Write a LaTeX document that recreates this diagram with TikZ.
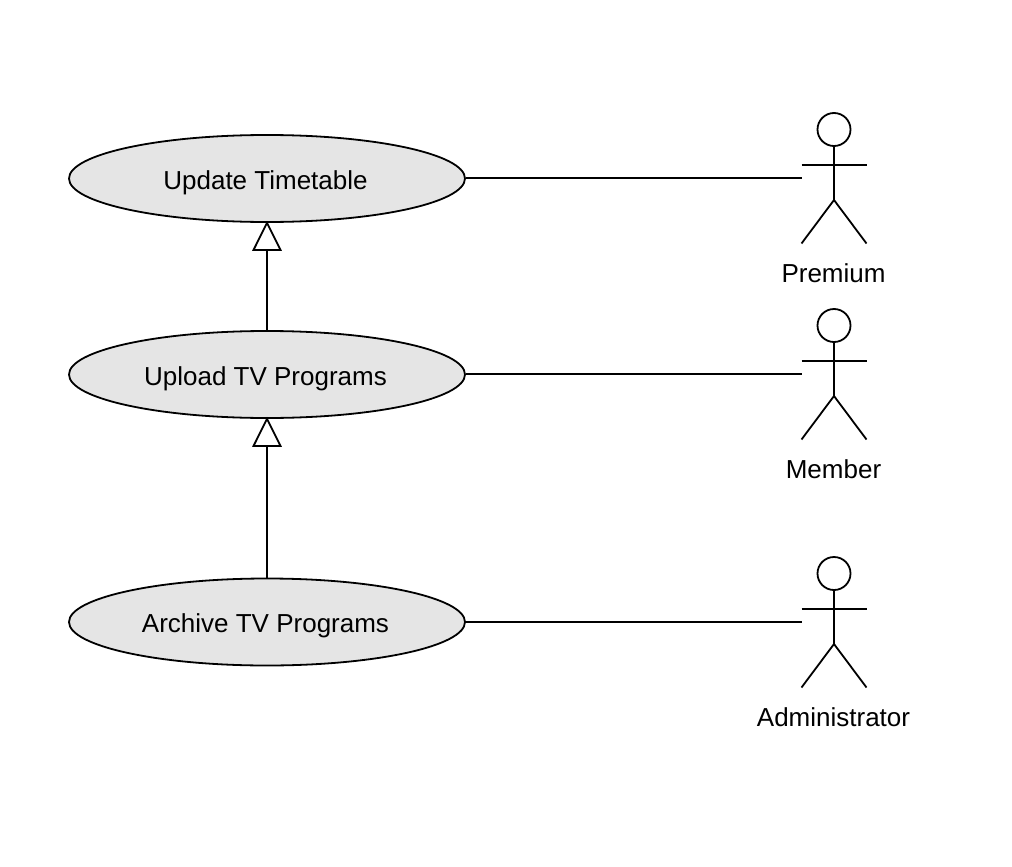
\documentclass[tikz,border=0pt]{standalone}
\usepackage{fontspec}
\usetikzlibrary{shapes.geometric}
\setmainfont{Liberation Sans}
\tikzset{
  x=1pt,y=-1pt,
  usecase/.style={draw=black,fill=black!10,ellipse,minimum width=396pt,minimum height=87pt,inner sep=0pt,line width=1.8pt,font=\fontsize{26}{31}\selectfont},
  link/.style={draw=black,line width=1.8pt},
  actorlabel/.style={inner sep=0pt,font=\fontsize{26}{31}\selectfont},
  tri/.style={draw=black,fill=white,line width=1.8pt,line join=miter},
}
\newcommand{\casetext}[1]{\raisebox{-10.5pt}[10pt][10pt]{#1}\hspace*{3pt}}
\newcommand{\actorfig}[3]{%
  \node[draw=black,fill=white,circle,minimum size=33pt,inner sep=0pt,line width=1.8pt] (#1head) at (#2,#3+16.5) {};
  \coordinate (#1neck) at (#2,#3+33);
  \coordinate (#1hip) at (#2,#3+87);
  \coordinate (#1la) at (#2-32.5,#3+52);
  \coordinate (#1ra) at (#2+32.5,#3+52);
  \coordinate (#1ll) at (#2-32.5,#3+130.5);
  \coordinate (#1rl) at (#2+32.5,#3+130.5);
  \coordinate (#1port) at (#2-32.5,#3+65);
  \draw[link] (#1neck) -- (#1hip);
  \draw[link] (#1la) -- (#1ra);
  \draw[link] (#1ll) -- (#1hip) -- (#1rl);
}
\begin{document}
\begin{tikzpicture}
\useasboundingbox (0,0) rectangle (1012,867);
\node[usecase] (update) at (267,178.5) {\casetext{Update Timetable}};
\node[usecase] (upload) at (267,374.5) {\casetext{Upload TV Programs}};
\node[usecase] (archive) at (267,622) {\casetext{Archive TV Programs}};
\actorfig{p}{834}{113}
\actorfig{m}{834}{309}
\actorfig{a}{834}{557}
\node[actorlabel] (pl) at (833.5,273.5) {Premium};
\node[actorlabel] (ml) at (833.5,469.5) {Member};
\node[actorlabel] (al) at (833.5,717.5) {Administrator};
\draw[link] (update.east |- pport) -- (pport);
\draw[link] (upload.east |- mport) -- (mport);
\draw[link] (archive.east |- aport) -- (aport);
\coordinate (t1) at (267,250);
\coordinate (t2) at (267,446);
\draw[link] (upload.north) -- (t1);
\draw[link] (archive.north) -- (t2);
\draw[tri] (update.south) -- ([xshift=13.5pt]t1) -- ([xshift=-13.5pt]t1) -- cycle;
\draw[tri] (upload.south) -- ([xshift=13.5pt]t2) -- ([xshift=-13.5pt]t2) -- cycle;
\end{tikzpicture}
\end{document}
